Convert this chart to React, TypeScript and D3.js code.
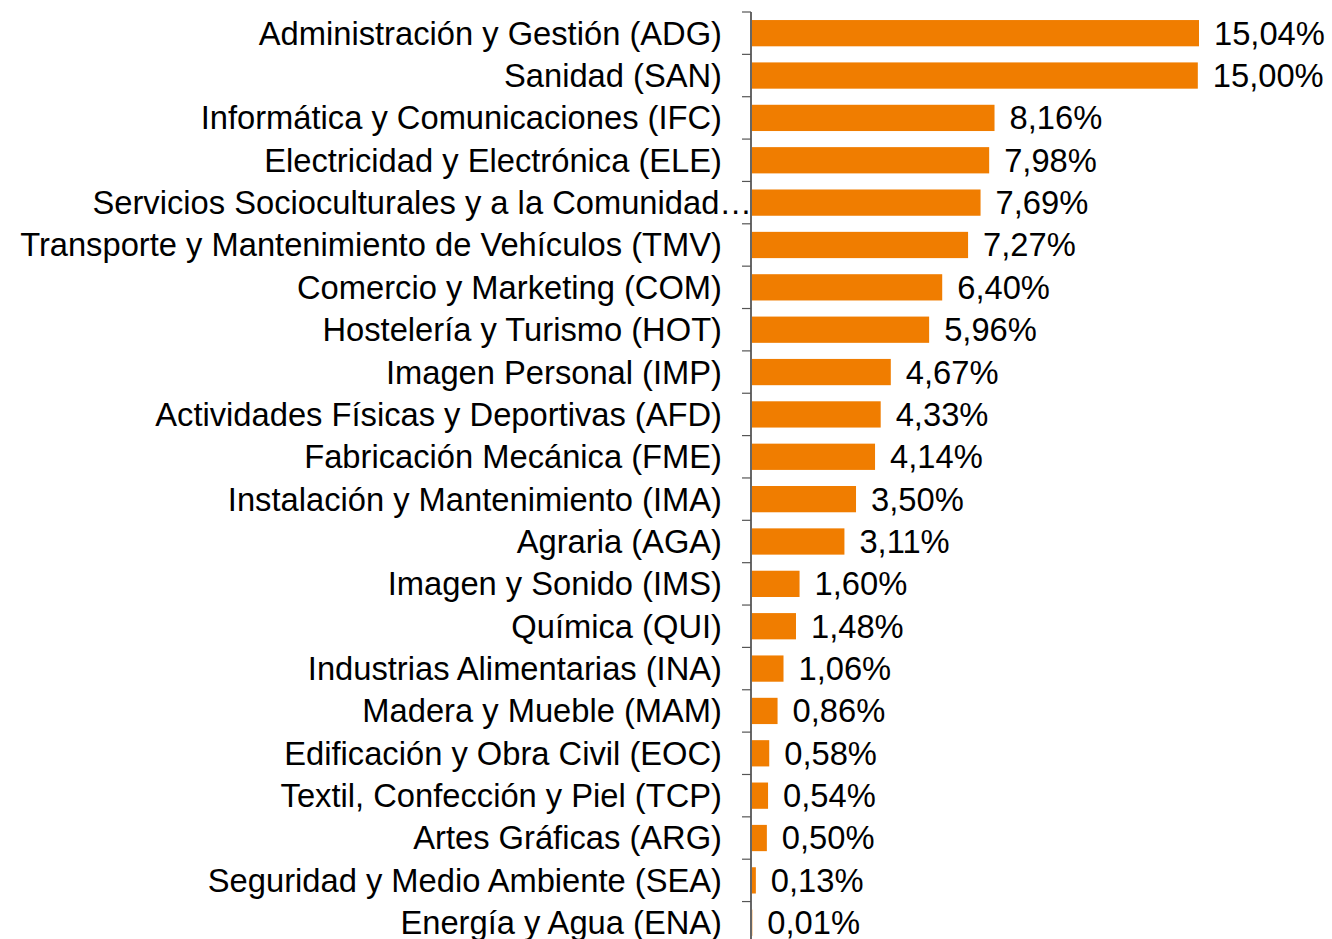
import React from "react";
import * as d3 from "d3";

const categories = [
  "Administración y Gestión (ADG)",
  "Sanidad (SAN)",
  "Informática y Comunicaciones (IFC)",
  "Electricidad y Electrónica (ELE)",
  "Servicios Socioculturales y a la Comunidad…",
  "Transporte y Mantenimiento de Vehículos (TMV)",
  "Comercio y Marketing (COM)",
  "Hostelería y Turismo (HOT)",
  "Imagen Personal (IMP)",
  "Actividades Físicas y Deportivas (AFD)",
  "Fabricación Mecánica (FME)",
  "Instalación y Mantenimiento (IMA)",
  "Agraria (AGA)",
  "Imagen y Sonido (IMS)",
  "Química (QUI)",
  "Industrias Alimentarias (INA)",
  "Madera y Mueble (MAM)",
  "Edificación y Obra Civil (EOC)",
  "Textil, Confección y Piel (TCP)",
  "Artes Gráficas (ARG)",
  "Seguridad y Medio Ambiente (SEA)",
  "Energía y Agua (ENA)",
];

const values = [
  15.04, 15.0, 8.16, 7.98, 7.69, 7.27, 6.4, 5.96, 4.67, 4.33, 4.14, 3.5, 3.11,
  1.6, 1.48, 1.06, 0.86, 0.58, 0.54, 0.5, 0.13, 0.01,
];

const W = 1332;
const H = 939;
const axisX = 751;
const top = 12;
const step = 42.36;
const fontFamily = "Arial, 'Liberation Sans', Helvetica, sans-serif";
const fontSize = 32.7;
const orange = "#F07D00";

export default function App() {
  const y = d3
    .scaleBand<string>()
    .domain(categories)
    .range([top, top + step * categories.length])
    .paddingInner(0.38)
    .paddingOuter(0.19);
  const x = d3.scaleLinear().domain([0, 15.04]).range([axisX + 1, 1199]);
  const fmt = (v: number) => d3.format(".2f")(v).replace(".", ",") + "%";
  const bounds = categories.map((_, i) => top + i * y.step());
  bounds.push(top + categories.length * y.step());

  return (
    <div style={{ position: "absolute", left: 0, top: 0 }}>
      <svg width={W} height={H} style={{ display: "block" }}>
        <rect width={W} height={H} fill="#fff" />
        {categories.map((c, i) => (
          <rect
            key={c}
            x={x(0)}
            y={y(c)!}
            width={Math.max(0, x(values[i]) - x(0))}
            height={y.bandwidth()}
            fill={orange}
          />
        ))}
        <line x1={axisX} x2={axisX} y1={top} y2={H} stroke="#000" strokeWidth={1.2} />
        {bounds.map((b, i) => (
          <line key={i} x1={axisX - 9} x2={axisX} y1={b} y2={b} stroke="#555" strokeWidth={1.2} />
        ))}
        {categories.map((c, i) => {
          const truncated = c.endsWith("…");
          return (
            <text
              key={"l" + c}
              x={truncated ? axisX + 1 : axisX - 29}
              y={y(c)! + y.bandwidth() / 2}
              dy="0.35em"
              textAnchor="end"
              fontFamily={fontFamily}
              fontSize={fontSize}
              fill="#000"
            >
              {c}
            </text>
          );
        })}
        {categories.map((c, i) => (
          <text
            key={"v" + c}
            x={x(values[i]) + 15}
            y={y(c)! + y.bandwidth() / 2}
            dy="0.35em"
            textAnchor="start"
            fontFamily={fontFamily}
            fontSize={fontSize}
            fill="#000"
          >
            {fmt(values[i])}
          </text>
        ))}
      </svg>
    </div>
  );
}
